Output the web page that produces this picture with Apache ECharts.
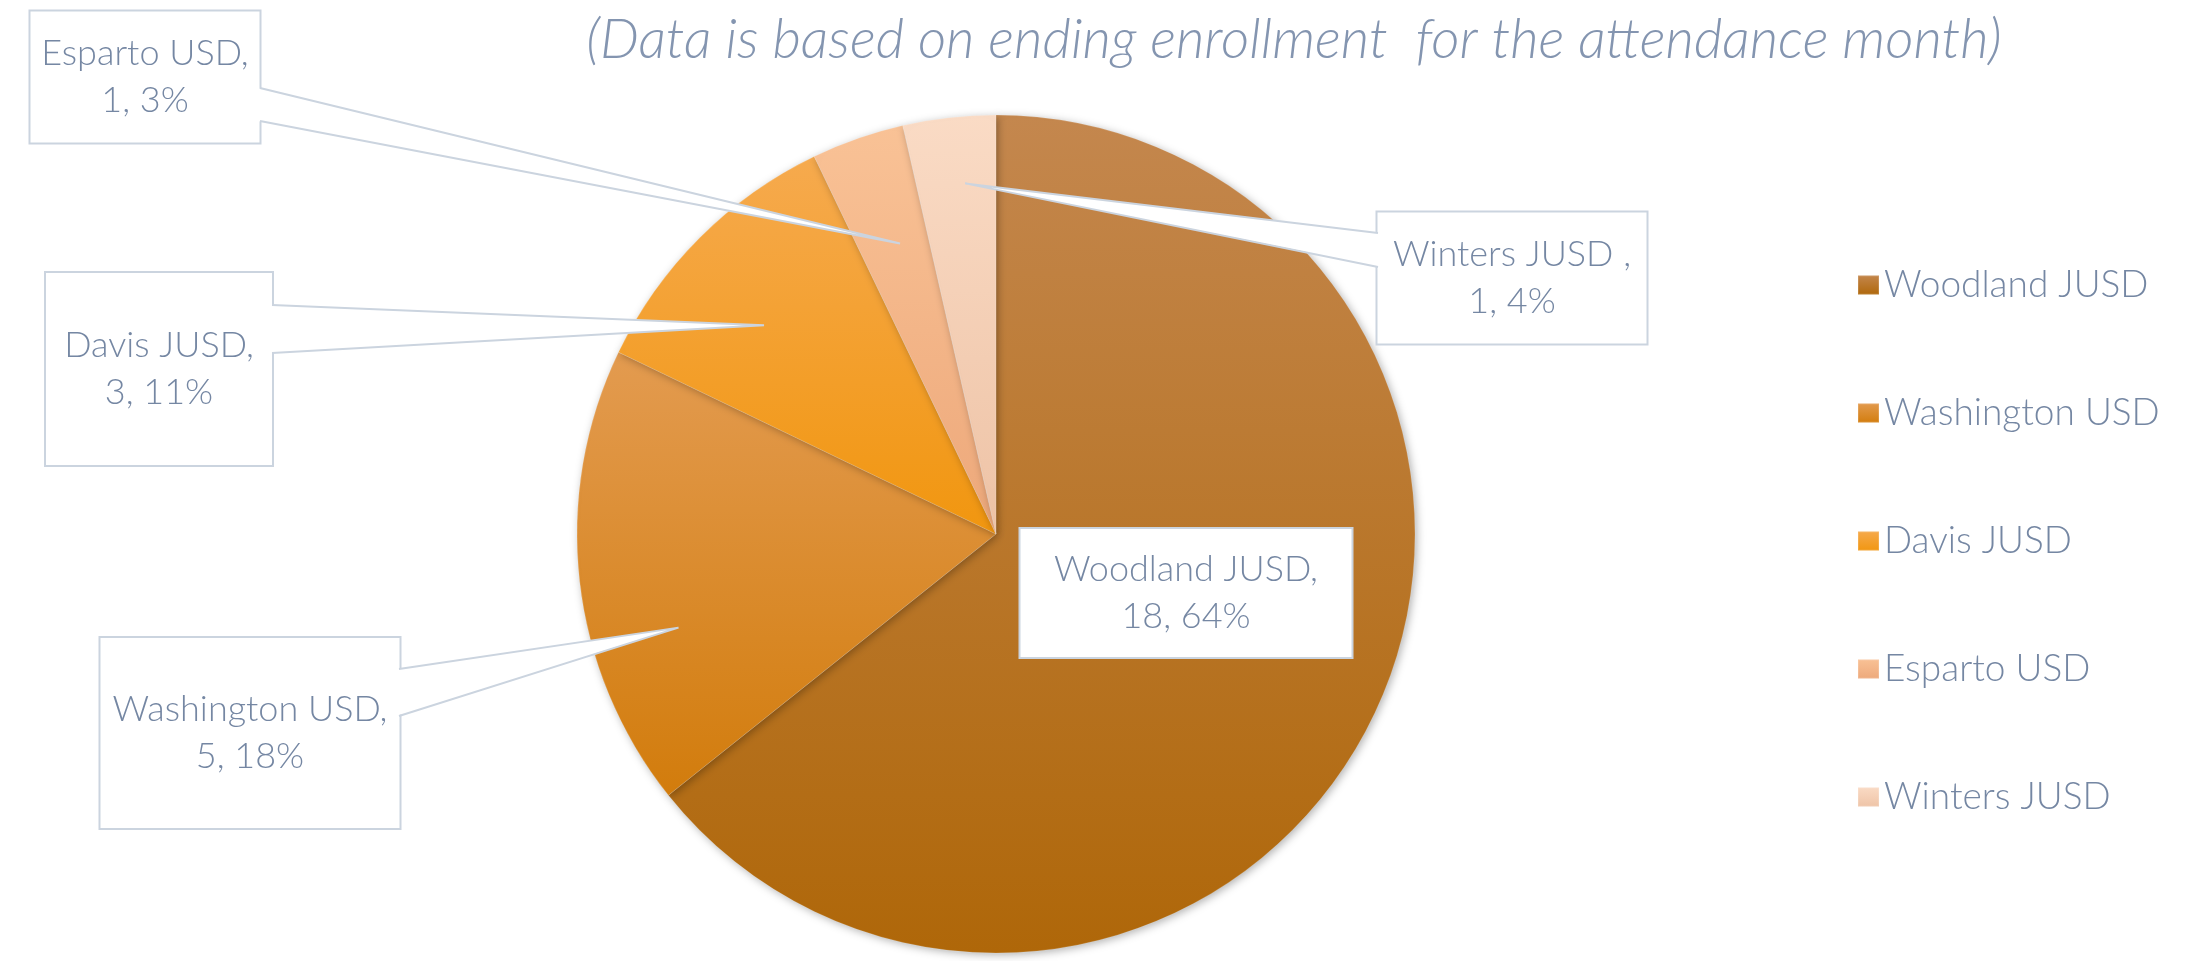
<!DOCTYPE html>
<html lang="en">
<head>
<meta charset="UTF-8">
<title>enrollment-pie</title>
<script src="https://cdn.jsdelivr.net/npm/echarts@6/dist/echarts.min.js"></script>
<style>html,body{margin:0;padding:0;background:#fff;}</style>
</head>
<body>
<div id="pieChart" style="width:2203px;height:961px"></div>
<script type="text/javascript">
    var districts = ['Woodland JUSD', 'Washington USD', 'Davis JUSD', 'Esparto USD', 'Winters JUSD '];
    var enrollment = [18, 5, 3, 1, 1];
    var sharePct = [64, 18, 11, 3, 4];   // as printed on the labels
    var titleText = '(Data is based on ending enrollment  for the attendance month)';

    // slice gradients, top -> bottom
    var sliceColors = [
        ['#C4874E', '#AF6709'],
        ['#E39B50', '#D27C0C'],
        ['#F6AA4E', '#F1960F'],
        ['#F9C296', '#EDA87A'],
        ['#FADBC5', '#EEC3A6']
    ];

    var CX = 996, CY = 534, R = 419;
    var textColor = '#7587A3';
    var boxLine = '#CBD4DF';

    // callout boxes: centre, size, edge the pointer leaves from, pointer base y's, tip radius
    var callouts = [
        {cx: 1186, cy: 593, w: 331, h: 128},
        {cx: 250, cy: 733, w: 299, h: 190, edge: 399, base: [669, 716], tipR: 0.79, tipShift: -10},
        {cx: 159, cy: 369, w: 226, h: 192, edge: 272, base: [305, 353], tipR: 0.745, tipShift: -3},
        {cx: 145, cy: 77, w: 229, h: 131, edge: 260, base: [88, 121], tipR: 0.73, tipShift: 1},
        {cx: 1512, cy: 278, w: 269, h: 131, edge: 1378, base: [233, 267], tipR: 0.84, tipShift: 1.4}
    ];

    var total = 0;
    for (var i = 0; i < enrollment.length; i++) total += enrollment[i];

    // point inside slice i where its callout pointer ends
    var tipPoint = function (i) {
        var before = 0;
        for (var j = 0; j < i; j++) before += enrollment[j];
        var ang = (before + enrollment[i] / 2) / total * 360 + (callouts[i].tipShift || 0);
        var rad = ang * Math.PI / 180;
        var r = R * callouts[i].tipR;
        return [CX + r * Math.sin(rad), CY - r * Math.cos(rad)];
    };

    var grad = function (c) {
        return new echarts.graphic.LinearGradient(0, 0, 0, 1, [
            {offset: 0, color: c[0]},
            {offset: 1, color: c[1]}
        ]);
    };

    var pieData = [];
    for (var k = 0; k < districts.length; k++) {
        var c = callouts[k];
        pieData.push({
            name: districts[k],
            value: enrollment[k],
            itemStyle: {color: grad(sliceColors[k])},
            label: {
                width: c.w,
                padding: [(c.h - 94) / 2, 0]
            }
        });
    }

    // white pointers joining each box to its slice
    var pointers = [];
    for (var m = 1; m < callouts.length; m++) {
        var co = callouts[m];
        var tip = tipPoint(m);
        var inward = co.edge < tip[0] ? -3 : 3;
        pointers.push({
            type: 'polygon',
            z: 10,
            silent: true,
            shape: {points: [[co.edge + inward, co.base[0]], tip, [co.edge + inward, co.base[1]]]},
            style: {fill: '#fff'}
        });
        pointers.push({
            type: 'polyline',
            z: 11,
            silent: true,
            shape: {points: [[co.edge, co.base[0]], tip, [co.edge, co.base[1]]]},
            style: {stroke: boxLine, lineWidth: 2, fill: null}
        });
    }

    var myChart = echarts.init(document.getElementById('pieChart'));
    var option = {
        backgroundColor: '#fff',
        animation: false,
        title: {
            text: titleText,
            left: 1289,
            top: 8,
            textAlign: 'center',
            textStyle: {
                fontFamily: 'Lato',
                fontStyle: 'italic',
                fontWeight: 300,
                fontSize: 55,
                color: '#8495B0'
            }
        },
        legend: {
            orient: 'vertical',
            left: 1852,
            top: 260,
            icon: 'rect',
            itemWidth: 21,
            itemHeight: 19,
            itemGap: 88,
            itemTextGap: 8,
            textStyle: {
                fontFamily: 'Lato',
                fontWeight: 300,
                fontSize: 37,
                lineHeight: 40,
                color: textColor
            }
        },
        graphic: pointers,
        series: [{
            type: 'pie',
            center: [CX, CY],
            radius: R,
            startAngle: 90,
            clockwise: true,
            avoidLabelOverlap: false,
            itemStyle: {
                borderColor: 'rgba(255,255,255,0.15)',
                borderWidth: 1,
                shadowBlur: 8,
                shadowColor: 'rgba(0,0,0,0.3)',
                shadowOffsetX: 2,
                shadowOffsetY: 2
            },
            emphasis: {disabled: true},
            label: {
                show: true,
                position: 'outside',
                fontFamily: 'Lato',
                fontWeight: 300,
                fontSize: 36,
                lineHeight: 47,
                color: textColor,
                align: 'center',
                backgroundColor: '#fff',
                borderColor: boxLine,
                borderWidth: 2,
                formatter: function (p) {
                    return p.name + ',\n' + p.value + ', ' + sharePct[p.dataIndex] + '%';
                }
            },
            labelLine: {show: false},
            labelLayout: function (params) {
                var c = callouts[params.dataIndex];
                return {x: c.cx, y: c.cy, align: 'center', verticalAlign: 'middle'};
            },
            data: pieData
        }]
    };
    myChart.setOption(option);
</script>
</body>
</html>
